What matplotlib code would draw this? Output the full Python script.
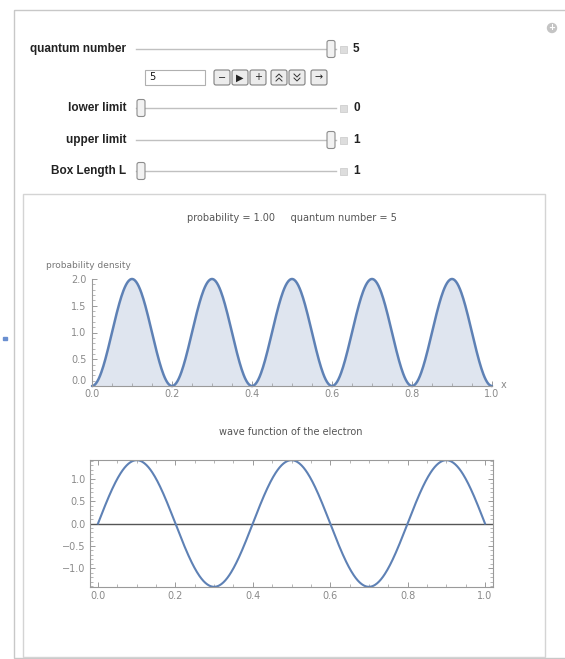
import numpy as np
import matplotlib
matplotlib.use("Agg")
import matplotlib.pyplot as plt
from matplotlib.patches import Rectangle, FancyBboxPatch, Circle
from matplotlib.ticker import MultipleLocator

# control settings shown in the panel
quantum_number = 5
lower_limit = 0
upper_limit = 1
box_length = 1
probability = 1.00

slider_names = ["quantum number", "lower limit", "upper limit", "Box Length L"]
slider_values = [quantum_number, lower_limit, upper_limit, box_length]
slider_ranges = [(1, 5), (0, 1), (0, 1), (1, 10)]

W, H = 565, 659
LINE = "#5e81b5"
FILL = "#dfe5ef"
TICK = "#8a8a8a"

fig = plt.figure(figsize=(W / 100, H / 100), dpi=100)
fig.patch.set_facecolor("white")


def box(l, t, r, b):
    return [l / W, 1 - b / H, (r - l) / W, (b - t) / H]


# ---- ui layer drawn in pixel coordinates
ui = fig.add_axes([0, 0, 1, 1])
ui.set_xlim(0, W)
ui.set_ylim(H, 0)
ui.axis("off")
ui.set_zorder(0)

ui.add_patch(Rectangle((14, 10), 600, 648, fill=False, ec="#c8c8c8", lw=1))
ui.add_patch(Rectangle((23, 194), 522, 463, fill=False, ec="#d4d4d4", lw=1))
ui.add_patch(Circle((552, 28), 4.5, color="#c4c4c4"))
ui.text(552, 28, "+", ha="center", va="center", fontsize=6, color="white", fontweight="bold")
ui.add_patch(Rectangle((3, 337), 4, 3, color="#6a8fd0"))

rows_y = [49, 108, 140, 171]
track_l, track_r = 136, 331
for name, val, (lo, hi), y in zip(slider_names, slider_values, slider_ranges, rows_y):
    ui.text(126, y, name, ha="right", va="center", fontsize=8.5, fontweight="bold",
            family="Liberation Sans", color="#222222")
    ui.plot([track_l, track_r + 5], [y, y], color="#c0c0c0", lw=1)
    tx = track_l + 5 + (val - lo) / (hi - lo) * (track_r - track_l - 5)
    ui.add_patch(FancyBboxPatch((tx - 4, y - 8.5), 8, 17, boxstyle="round,pad=0,rounding_size=2",
                                fc="#f2f2f2", ec="#8c8c8c", lw=0.8, zorder=3))
    ui.add_patch(Rectangle((340, y - 3.5), 7, 7, fc="#dddddd", ec="#c8c8c8", lw=0.5))
    ui.text(353, y, str(val), ha="left", va="center", fontsize=8.5, fontweight="bold",
            family="Liberation Sans", color="#222222")

# input field and animator buttons
ui.add_patch(Rectangle((145, 70), 60, 15, fc="white", ec="#b0b0b0", lw=0.8))
ui.text(149, 77.5, str(quantum_number), ha="left", va="center", fontsize=7, color="#111111")
buttons = [(214, "\u2212"), (232, "\u25B6"), (250, "+"), (271, "up"), (289, "down"),
           (311, "\u2192")]
for bx, sym in buttons:
    ui.add_patch(FancyBboxPatch((bx, 70), 16, 15, boxstyle="round,pad=0,rounding_size=2",
                                fc="#ececec", ec="#808080", lw=0.8))
    cx, cy = bx + 8, 77.5
    if sym in ("up", "down"):
        d = -1 if sym == "up" else 1
        for off in (-2, 2):
            ui.plot([cx - 3, cx, cx + 3], [cy + off - 1.5 * d, cy + off + 1.5 * d - 0.0,
                                           cy + off - 1.5 * d],
                    color="#333333", lw=0.7)
    else:
        ui.text(cx, cy, sym, ha="center", va="center", fontsize=7, color="#222222")

ui.text(292, 218, "probability = %.2f     quantum number = %d" % (probability, quantum_number),
        ha="center", va="center", fontsize=7, color="#555555")
ui.text(291, 432, "wave function of the electron", ha="center", va="center", fontsize=7,
        color="#555555")
ui.text(46, 265, "probability density", ha="left", va="center", fontsize=6.5, color="#777777")
ui.text(501, 385, "x", ha="left", va="center", fontsize=7, color="#888888")

# ---- curves
x = np.linspace(lower_limit, upper_limit, 600)
psi = np.sqrt(2 / box_length) * np.sin(quantum_number * np.pi * x / box_length)
dens = psi ** 2

ax1 = fig.add_axes(box(92, 279, 492, 386))
ax1.set_facecolor("none")
ax1.fill_between(x, 0, dens, color=FILL, lw=0)
ax1.plot(x, dens, color=LINE, lw=1.8, clip_on=False, solid_capstyle="round")
ax1.set_xlim(0, 1)
ax1.set_ylim(0, 2)
for s in ["top", "right"]:
    ax1.spines[s].set_visible(False)
for s in ["left", "bottom"]:
    ax1.spines[s].set_color("#9a9a9a")
    ax1.spines[s].set_linewidth(0.8)
ax1.xaxis.set_major_locator(MultipleLocator(0.2))
ax1.xaxis.set_minor_locator(MultipleLocator(0.05))
ax1.yaxis.set_major_locator(MultipleLocator(0.5))
ax1.yaxis.set_minor_locator(MultipleLocator(0.1))
ax1.tick_params(which="both", direction="in", color="#9a9a9a", labelcolor=TICK,
                labelsize=7)
ax1.tick_params(axis="x", pad=2)
ax1.tick_params(axis="y", pad=4)
ax1.tick_params(which="major", length=3.5, width=0.7)
ax1.tick_params(which="minor", length=2, width=0.5)
ax1.set_xticks([0, 0.2, 0.4, 0.6, 0.8, 1.0])
ax1.set_xticklabels(["0.0", "0.2", "0.4", "0.6", "0.8", "1.0"])
ax1.set_yticks([0, 0.5, 1.0, 1.5, 2.0])
ax1.set_yticklabels(["0.0", "0.5", "1.0", "1.5", "2.0"])
ax1.get_yticklabels()[0].set_va("bottom")

ax2 = fig.add_axes(box(90, 460, 493, 587))
ax2.set_facecolor("none")
ax2.axhline(0, color="#555555", lw=1)
ax2.plot(x, psi, color=LINE, lw=1.5)
ax2.set_xlim(-0.0207, 1.0207)
amp = np.sqrt(2 / box_length)
ax2.set_ylim(-amp * 1.003, amp * 1.003)
for s in ax2.spines.values():
    s.set_color("#9a9a9a")
    s.set_linewidth(0.8)
ax2.xaxis.set_major_locator(MultipleLocator(0.2))
ax2.xaxis.set_minor_locator(MultipleLocator(0.05))
ax2.yaxis.set_major_locator(MultipleLocator(0.5))
ax2.yaxis.set_minor_locator(MultipleLocator(0.1))
ax2.tick_params(which="both", direction="in", top=True, right=True, color="#9a9a9a",
                labelcolor=TICK, labelsize=7, pad=3)
ax2.tick_params(which="major", length=3.5, width=0.7)
ax2.tick_params(which="minor", length=2, width=0.5)
ax2.set_xticks([0, 0.2, 0.4, 0.6, 0.8, 1.0])
ax2.set_xticklabels(["0.0", "0.2", "0.4", "0.6", "0.8", "1.0"])
ax2.set_yticks([-1.0, -0.5, 0, 0.5, 1.0])
ax2.set_yticklabels(["\u22121.0", "\u22120.5", "0.0", "0.5", "1.0"])

fig.savefig("out.png", dpi=100)
